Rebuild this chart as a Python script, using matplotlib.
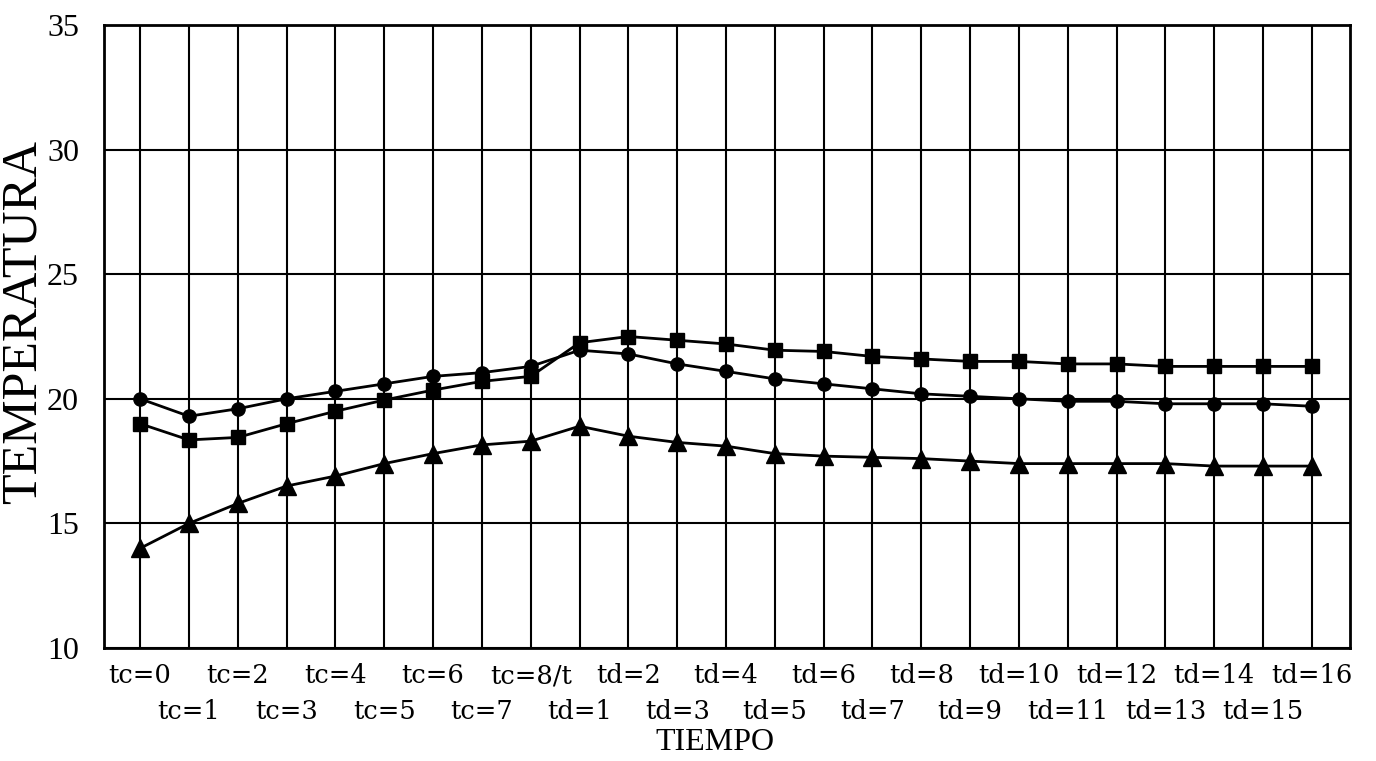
import matplotlib
matplotlib.use("Agg")
import matplotlib.pyplot as plt

categories = ["tc=0", "tc=1", "tc=2", "tc=3", "tc=4", "tc=5", "tc=6", "tc=7", "tc=8/t",
              "td=1", "td=2", "td=3", "td=4", "td=5", "td=6", "td=7", "td=8",
              "td=9", "td=10", "td=11", "td=12", "td=13", "td=14", "td=15", "td=16"]

serie_circulo = [20.0, 19.3, 19.6, 20.0, 20.3, 20.6, 20.9, 21.05, 21.3,
                 21.95, 21.8, 21.4, 21.1, 20.8, 20.6, 20.4, 20.2,
                 20.1, 20.0, 19.9, 19.9, 19.8, 19.8, 19.8, 19.7]

serie_cuadrado = [19.0, 18.35, 18.45, 19.0, 19.5, 19.95, 20.35, 20.7, 20.9,
                  22.25, 22.5, 22.35, 22.2, 21.95, 21.9, 21.7, 21.6,
                  21.5, 21.5, 21.4, 21.4, 21.3, 21.3, 21.3, 21.3]

serie_triangulo = [14.0, 15.0, 15.8, 16.5, 16.9, 17.4, 17.8, 18.15, 18.3,
                   18.9, 18.5, 18.25, 18.1, 17.8, 17.7, 17.65, 17.6,
                   17.5, 17.4, 17.4, 17.4, 17.4, 17.3, 17.3, 17.3]

y_ticks = [10, 15, 20, 25, 30, 35]

fig = plt.figure(figsize=(13.76, 7.61), dpi=100)
ax = fig.add_axes([104/1376, 1 - 648/761, (1350-104)/1376, (648-25)/761])

x = list(range(len(categories)))
lw = 2.0
ax.plot(x, serie_cuadrado, color="black", lw=lw, marker="s", ms=10.5, zorder=3)
ax.plot(x, serie_circulo, color="black", lw=lw, marker="o", ms=9.5, zorder=3)
ax.plot(x, serie_triangulo, color="black", lw=lw, marker="^", ms=12.5, zorder=3)

ax.set_xlim(-0.74, 24.78)
ax.set_ylim(10, 35)
ax.set_yticks(y_ticks)
ax.set_yticklabels([str(v) for v in y_ticks], family="Liberation Serif", fontsize=23)

even = [i for i in x if i % 2 == 0]
odd = [i for i in x if i % 2 == 1]
tick_font = dict(family="DejaVu Serif", fontsize=18.5)
ax.set_xticks(even)
ax.set_xticklabels([categories[i] for i in even], **tick_font)
ax.set_xticks(odd, minor=True)
ax.set_xticklabels([categories[i] for i in odd], minor=True, **tick_font)
ax.tick_params(axis="x", which="major", length=0, pad=11)
ax.tick_params(axis="x", which="minor", length=0, pad=37)
ax.tick_params(axis="y", length=0, pad=18)

ax.grid(which="both", axis="x", color="black", lw=1.5)
ax.grid(which="major", axis="y", color="black", lw=1.5)
ax.set_axisbelow(True)
for s in ax.spines.values():
    s.set_linewidth(2.0)
    s.set_color("black")

ax.set_xlabel("TIEMPO", family="Liberation Serif", fontsize=23, va="center")
ax.xaxis.set_label_coords((715 - 104) / 1246, -(743 - 648) / 623)
ax.set_ylabel("TEMPERATURA", family="Liberation Serif", fontsize=36, va="center", ha="center")
ax.yaxis.set_label_coords((23 - 104) / 1246, (648 - 322) / 623)

fig.savefig("out.png", dpi=100)
